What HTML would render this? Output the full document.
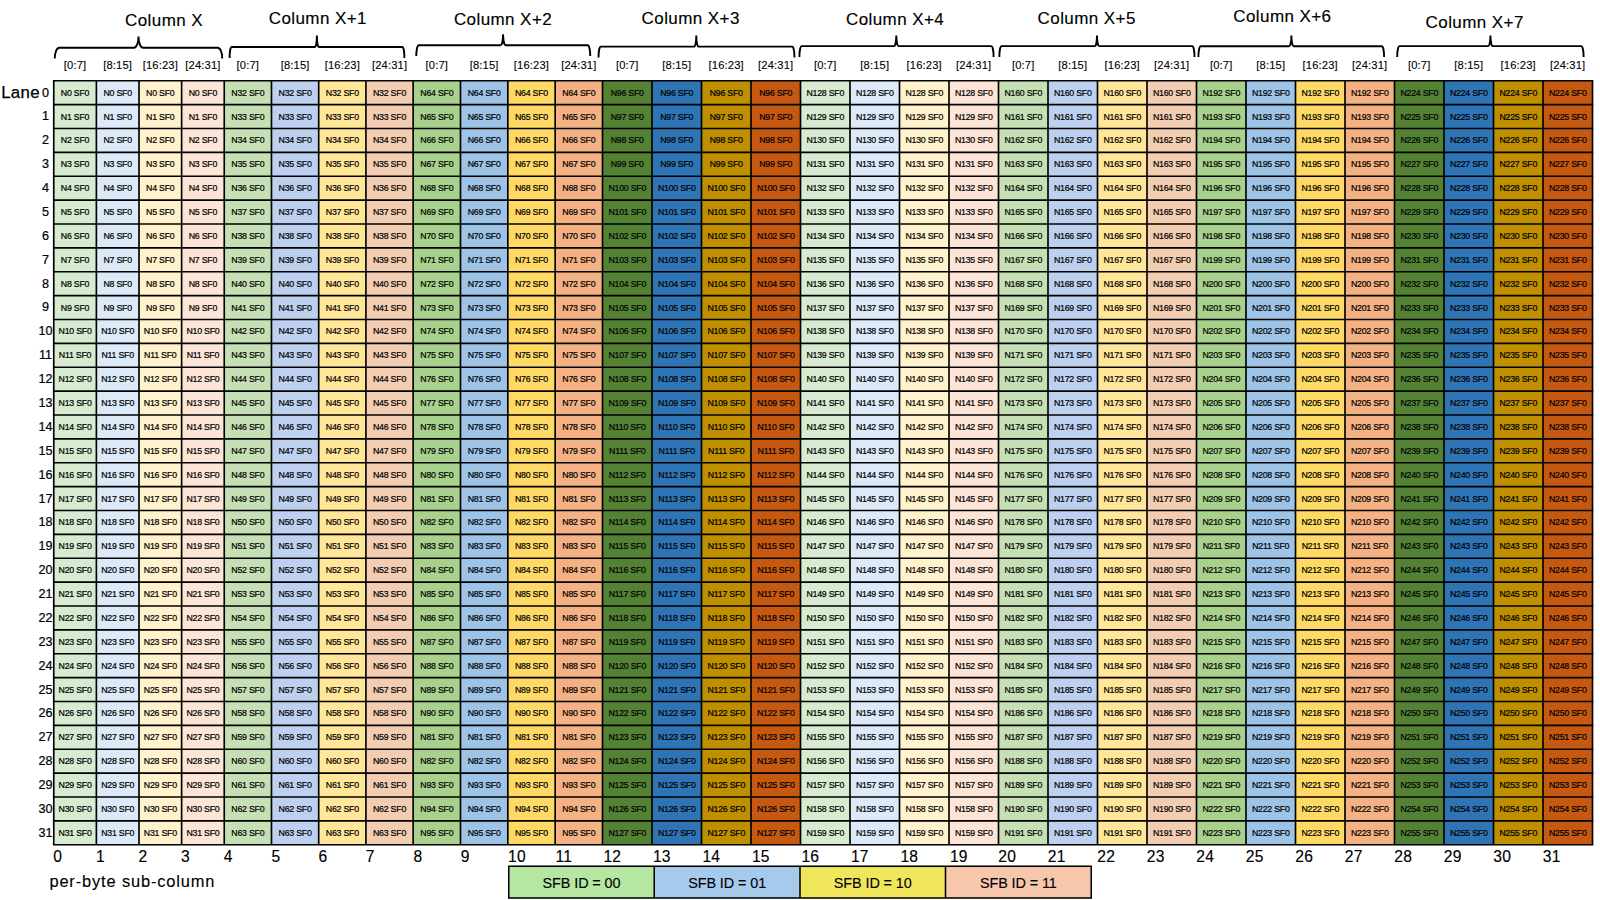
<!DOCTYPE html>
<html><head><meta charset="utf-8"><title>Lane layout</title>
<style>
html,body{margin:0;padding:0;background:#fff;}
body{width:1600px;height:900px;position:relative;overflow:hidden;font-family:"Liberation Sans",sans-serif;color:#000;}
.col{position:absolute;top:80.700px;height:764.050px;}
.col div{height:23.8766px;line-height:23.8766px;text-align:center;font-size:8.8px;letter-spacing:-0.24px;white-space:nowrap;color:#000;-webkit-text-stroke:0.2px #000;padding-top:1.0px;box-sizing:border-box;}
.sub{position:absolute;top:58.3px;height:15px;line-height:15px;font-size:11.2px;letter-spacing:0.15px;text-align:center;white-space:nowrap;color:#000;-webkit-text-stroke:0.1px #000;}
.hd{position:absolute;font-size:17px;line-height:20px;white-space:nowrap;transform:translateX(-50%);letter-spacing:0.42px;-webkit-text-stroke:0.15px #000;}
.ln{position:absolute;left:25.5px;width:40px;text-align:center;font-size:12.6px;-webkit-text-stroke:0.22px #000;height:23.8766px;line-height:23.8766px;}
.bn{position:absolute;top:848px;font-size:15.6px;line-height:18px;letter-spacing:0.3px;-webkit-text-stroke:0.15px #000;}
.lg{position:absolute;top:866.25px;height:31.75px;line-height:31.75px;text-align:center;font-size:14.4px;letter-spacing:-0.08px;color:#000;padding-top:1.7px;box-sizing:border-box;-webkit-text-stroke:0.12px #000;}
svg{position:absolute;left:0;top:0;}
</style></head><body>
<div class="col" style="left:53.750px;width:42.625px;background:#D7EBD0"><div>N0 SF0</div><div>N1 SF0</div><div>N2 SF0</div><div>N3 SF0</div><div>N4 SF0</div><div>N5 SF0</div><div>N6 SF0</div><div>N7 SF0</div><div>N8 SF0</div><div>N9 SF0</div><div>N10 SF0</div><div>N11 SF0</div><div>N12 SF0</div><div>N13 SF0</div><div>N14 SF0</div><div>N15 SF0</div><div>N16 SF0</div><div>N17 SF0</div><div>N18 SF0</div><div>N19 SF0</div><div>N20 SF0</div><div>N21 SF0</div><div>N22 SF0</div><div>N23 SF0</div><div>N24 SF0</div><div>N25 SF0</div><div>N26 SF0</div><div>N27 SF0</div><div>N28 SF0</div><div>N29 SF0</div><div>N30 SF0</div><div>N31 SF0</div></div>
<div class="col" style="left:96.375px;width:42.625px;background:#DCE9F8"><div>N0 SF0</div><div>N1 SF0</div><div>N2 SF0</div><div>N3 SF0</div><div>N4 SF0</div><div>N5 SF0</div><div>N6 SF0</div><div>N7 SF0</div><div>N8 SF0</div><div>N9 SF0</div><div>N10 SF0</div><div>N11 SF0</div><div>N12 SF0</div><div>N13 SF0</div><div>N14 SF0</div><div>N15 SF0</div><div>N16 SF0</div><div>N17 SF0</div><div>N18 SF0</div><div>N19 SF0</div><div>N20 SF0</div><div>N21 SF0</div><div>N22 SF0</div><div>N23 SF0</div><div>N24 SF0</div><div>N25 SF0</div><div>N26 SF0</div><div>N27 SF0</div><div>N28 SF0</div><div>N29 SF0</div><div>N30 SF0</div><div>N31 SF0</div></div>
<div class="col" style="left:139.000px;width:42.625px;background:#FFF2CC"><div>N0 SF0</div><div>N1 SF0</div><div>N2 SF0</div><div>N3 SF0</div><div>N4 SF0</div><div>N5 SF0</div><div>N6 SF0</div><div>N7 SF0</div><div>N8 SF0</div><div>N9 SF0</div><div>N10 SF0</div><div>N11 SF0</div><div>N12 SF0</div><div>N13 SF0</div><div>N14 SF0</div><div>N15 SF0</div><div>N16 SF0</div><div>N17 SF0</div><div>N18 SF0</div><div>N19 SF0</div><div>N20 SF0</div><div>N21 SF0</div><div>N22 SF0</div><div>N23 SF0</div><div>N24 SF0</div><div>N25 SF0</div><div>N26 SF0</div><div>N27 SF0</div><div>N28 SF0</div><div>N29 SF0</div><div>N30 SF0</div><div>N31 SF0</div></div>
<div class="col" style="left:181.625px;width:42.625px;background:#FCE4D6"><div>N0 SF0</div><div>N1 SF0</div><div>N2 SF0</div><div>N3 SF0</div><div>N4 SF0</div><div>N5 SF0</div><div>N6 SF0</div><div>N7 SF0</div><div>N8 SF0</div><div>N9 SF0</div><div>N10 SF0</div><div>N11 SF0</div><div>N12 SF0</div><div>N13 SF0</div><div>N14 SF0</div><div>N15 SF0</div><div>N16 SF0</div><div>N17 SF0</div><div>N18 SF0</div><div>N19 SF0</div><div>N20 SF0</div><div>N21 SF0</div><div>N22 SF0</div><div>N23 SF0</div><div>N24 SF0</div><div>N25 SF0</div><div>N26 SF0</div><div>N27 SF0</div><div>N28 SF0</div><div>N29 SF0</div><div>N30 SF0</div><div>N31 SF0</div></div>
<div class="col" style="left:224.250px;width:47.225px;background:#C5E0B4"><div>N32 SF0</div><div>N33 SF0</div><div>N34 SF0</div><div>N35 SF0</div><div>N36 SF0</div><div>N37 SF0</div><div>N38 SF0</div><div>N39 SF0</div><div>N40 SF0</div><div>N41 SF0</div><div>N42 SF0</div><div>N43 SF0</div><div>N44 SF0</div><div>N45 SF0</div><div>N46 SF0</div><div>N47 SF0</div><div>N48 SF0</div><div>N49 SF0</div><div>N50 SF0</div><div>N51 SF0</div><div>N52 SF0</div><div>N53 SF0</div><div>N54 SF0</div><div>N55 SF0</div><div>N56 SF0</div><div>N57 SF0</div><div>N58 SF0</div><div>N59 SF0</div><div>N60 SF0</div><div>N61 SF0</div><div>N62 SF0</div><div>N63 SF0</div></div>
<div class="col" style="left:271.475px;width:47.225px;background:#BED0EF"><div>N32 SF0</div><div>N33 SF0</div><div>N34 SF0</div><div>N35 SF0</div><div>N36 SF0</div><div>N37 SF0</div><div>N38 SF0</div><div>N39 SF0</div><div>N40 SF0</div><div>N41 SF0</div><div>N42 SF0</div><div>N43 SF0</div><div>N44 SF0</div><div>N45 SF0</div><div>N46 SF0</div><div>N47 SF0</div><div>N48 SF0</div><div>N49 SF0</div><div>N50 SF0</div><div>N51 SF0</div><div>N52 SF0</div><div>N53 SF0</div><div>N54 SF0</div><div>N55 SF0</div><div>N56 SF0</div><div>N57 SF0</div><div>N58 SF0</div><div>N59 SF0</div><div>N60 SF0</div><div>N61 SF0</div><div>N62 SF0</div><div>N63 SF0</div></div>
<div class="col" style="left:318.700px;width:47.225px;background:#FFE699"><div>N32 SF0</div><div>N33 SF0</div><div>N34 SF0</div><div>N35 SF0</div><div>N36 SF0</div><div>N37 SF0</div><div>N38 SF0</div><div>N39 SF0</div><div>N40 SF0</div><div>N41 SF0</div><div>N42 SF0</div><div>N43 SF0</div><div>N44 SF0</div><div>N45 SF0</div><div>N46 SF0</div><div>N47 SF0</div><div>N48 SF0</div><div>N49 SF0</div><div>N50 SF0</div><div>N51 SF0</div><div>N52 SF0</div><div>N53 SF0</div><div>N54 SF0</div><div>N55 SF0</div><div>N56 SF0</div><div>N57 SF0</div><div>N58 SF0</div><div>N59 SF0</div><div>N60 SF0</div><div>N61 SF0</div><div>N62 SF0</div><div>N63 SF0</div></div>
<div class="col" style="left:365.925px;width:47.225px;background:#F2CDB2"><div>N32 SF0</div><div>N33 SF0</div><div>N34 SF0</div><div>N35 SF0</div><div>N36 SF0</div><div>N37 SF0</div><div>N38 SF0</div><div>N39 SF0</div><div>N40 SF0</div><div>N41 SF0</div><div>N42 SF0</div><div>N43 SF0</div><div>N44 SF0</div><div>N45 SF0</div><div>N46 SF0</div><div>N47 SF0</div><div>N48 SF0</div><div>N49 SF0</div><div>N50 SF0</div><div>N51 SF0</div><div>N52 SF0</div><div>N53 SF0</div><div>N54 SF0</div><div>N55 SF0</div><div>N56 SF0</div><div>N57 SF0</div><div>N58 SF0</div><div>N59 SF0</div><div>N60 SF0</div><div>N61 SF0</div><div>N62 SF0</div><div>N63 SF0</div></div>
<div class="col" style="left:413.150px;width:47.337px;background:#A9D18E"><div>N64 SF0</div><div>N65 SF0</div><div>N66 SF0</div><div>N67 SF0</div><div>N68 SF0</div><div>N69 SF0</div><div>N70 SF0</div><div>N71 SF0</div><div>N72 SF0</div><div>N73 SF0</div><div>N74 SF0</div><div>N75 SF0</div><div>N76 SF0</div><div>N77 SF0</div><div>N78 SF0</div><div>N79 SF0</div><div>N80 SF0</div><div>N81 SF0</div><div>N82 SF0</div><div>N83 SF0</div><div>N84 SF0</div><div>N85 SF0</div><div>N86 SF0</div><div>N87 SF0</div><div>N88 SF0</div><div>N89 SF0</div><div>N90 SF0</div><div>N81 SF0</div><div>N82 SF0</div><div>N93 SF0</div><div>N94 SF0</div><div>N95 SF0</div></div>
<div class="col" style="left:460.487px;width:47.338px;background:#9DC3E6"><div>N64 SF0</div><div>N65 SF0</div><div>N66 SF0</div><div>N67 SF0</div><div>N68 SF0</div><div>N69 SF0</div><div>N70 SF0</div><div>N71 SF0</div><div>N72 SF0</div><div>N73 SF0</div><div>N74 SF0</div><div>N75 SF0</div><div>N76 SF0</div><div>N77 SF0</div><div>N78 SF0</div><div>N79 SF0</div><div>N80 SF0</div><div>N81 SF0</div><div>N82 SF0</div><div>N83 SF0</div><div>N84 SF0</div><div>N85 SF0</div><div>N86 SF0</div><div>N87 SF0</div><div>N88 SF0</div><div>N89 SF0</div><div>N90 SF0</div><div>N81 SF0</div><div>N82 SF0</div><div>N93 SF0</div><div>N94 SF0</div><div>N95 SF0</div></div>
<div class="col" style="left:507.825px;width:47.337px;background:#FFD966"><div>N64 SF0</div><div>N65 SF0</div><div>N66 SF0</div><div>N67 SF0</div><div>N68 SF0</div><div>N69 SF0</div><div>N70 SF0</div><div>N71 SF0</div><div>N72 SF0</div><div>N73 SF0</div><div>N74 SF0</div><div>N75 SF0</div><div>N76 SF0</div><div>N77 SF0</div><div>N78 SF0</div><div>N79 SF0</div><div>N80 SF0</div><div>N81 SF0</div><div>N82 SF0</div><div>N83 SF0</div><div>N84 SF0</div><div>N85 SF0</div><div>N86 SF0</div><div>N87 SF0</div><div>N88 SF0</div><div>N89 SF0</div><div>N90 SF0</div><div>N81 SF0</div><div>N82 SF0</div><div>N93 SF0</div><div>N94 SF0</div><div>N95 SF0</div></div>
<div class="col" style="left:555.162px;width:47.338px;background:#F4B183"><div>N64 SF0</div><div>N65 SF0</div><div>N66 SF0</div><div>N67 SF0</div><div>N68 SF0</div><div>N69 SF0</div><div>N70 SF0</div><div>N71 SF0</div><div>N72 SF0</div><div>N73 SF0</div><div>N74 SF0</div><div>N75 SF0</div><div>N76 SF0</div><div>N77 SF0</div><div>N78 SF0</div><div>N79 SF0</div><div>N80 SF0</div><div>N81 SF0</div><div>N82 SF0</div><div>N83 SF0</div><div>N84 SF0</div><div>N85 SF0</div><div>N86 SF0</div><div>N87 SF0</div><div>N88 SF0</div><div>N89 SF0</div><div>N90 SF0</div><div>N81 SF0</div><div>N82 SF0</div><div>N93 SF0</div><div>N94 SF0</div><div>N95 SF0</div></div>
<div class="col" style="left:602.500px;width:49.500px;background:#548235"><div>N96 SF0</div><div>N97 SF0</div><div>N98 SF0</div><div>N99 SF0</div><div>N100 SF0</div><div>N101 SF0</div><div>N102 SF0</div><div>N103 SF0</div><div>N104 SF0</div><div>N105 SF0</div><div>N106 SF0</div><div>N107 SF0</div><div>N108 SF0</div><div>N109 SF0</div><div>N110 SF0</div><div>N111 SF0</div><div>N112 SF0</div><div>N113 SF0</div><div>N114 SF0</div><div>N115 SF0</div><div>N116 SF0</div><div>N117 SF0</div><div>N118 SF0</div><div>N119 SF0</div><div>N120 SF0</div><div>N121 SF0</div><div>N122 SF0</div><div>N123 SF0</div><div>N124 SF0</div><div>N125 SF0</div><div>N126 SF0</div><div>N127 SF0</div></div>
<div class="col" style="left:652.000px;width:49.500px;background:#2F75B5"><div>N96 SF0</div><div>N97 SF0</div><div>N98 SF0</div><div>N99 SF0</div><div>N100 SF0</div><div>N101 SF0</div><div>N102 SF0</div><div>N103 SF0</div><div>N104 SF0</div><div>N105 SF0</div><div>N106 SF0</div><div>N107 SF0</div><div>N108 SF0</div><div>N109 SF0</div><div>N110 SF0</div><div>N111 SF0</div><div>N112 SF0</div><div>N113 SF0</div><div>N114 SF0</div><div>N115 SF0</div><div>N116 SF0</div><div>N117 SF0</div><div>N118 SF0</div><div>N119 SF0</div><div>N120 SF0</div><div>N121 SF0</div><div>N122 SF0</div><div>N123 SF0</div><div>N124 SF0</div><div>N125 SF0</div><div>N126 SF0</div><div>N127 SF0</div></div>
<div class="col" style="left:701.500px;width:49.500px;background:#BF8F00"><div>N96 SF0</div><div>N97 SF0</div><div>N98 SF0</div><div>N99 SF0</div><div>N100 SF0</div><div>N101 SF0</div><div>N102 SF0</div><div>N103 SF0</div><div>N104 SF0</div><div>N105 SF0</div><div>N106 SF0</div><div>N107 SF0</div><div>N108 SF0</div><div>N109 SF0</div><div>N110 SF0</div><div>N111 SF0</div><div>N112 SF0</div><div>N113 SF0</div><div>N114 SF0</div><div>N115 SF0</div><div>N116 SF0</div><div>N117 SF0</div><div>N118 SF0</div><div>N119 SF0</div><div>N120 SF0</div><div>N121 SF0</div><div>N122 SF0</div><div>N123 SF0</div><div>N124 SF0</div><div>N125 SF0</div><div>N126 SF0</div><div>N127 SF0</div></div>
<div class="col" style="left:751.000px;width:49.500px;background:#C65911"><div>N96 SF0</div><div>N97 SF0</div><div>N98 SF0</div><div>N99 SF0</div><div>N100 SF0</div><div>N101 SF0</div><div>N102 SF0</div><div>N103 SF0</div><div>N104 SF0</div><div>N105 SF0</div><div>N106 SF0</div><div>N107 SF0</div><div>N108 SF0</div><div>N109 SF0</div><div>N110 SF0</div><div>N111 SF0</div><div>N112 SF0</div><div>N113 SF0</div><div>N114 SF0</div><div>N115 SF0</div><div>N116 SF0</div><div>N117 SF0</div><div>N118 SF0</div><div>N119 SF0</div><div>N120 SF0</div><div>N121 SF0</div><div>N122 SF0</div><div>N123 SF0</div><div>N124 SF0</div><div>N125 SF0</div><div>N126 SF0</div><div>N127 SF0</div></div>
<div class="col" style="left:800.500px;width:49.500px;background:#D7EBD0"><div>N128 SF0</div><div>N129 SF0</div><div>N130 SF0</div><div>N131 SF0</div><div>N132 SF0</div><div>N133 SF0</div><div>N134 SF0</div><div>N135 SF0</div><div>N136 SF0</div><div>N137 SF0</div><div>N138 SF0</div><div>N139 SF0</div><div>N140 SF0</div><div>N141 SF0</div><div>N142 SF0</div><div>N143 SF0</div><div>N144 SF0</div><div>N145 SF0</div><div>N146 SF0</div><div>N147 SF0</div><div>N148 SF0</div><div>N149 SF0</div><div>N150 SF0</div><div>N151 SF0</div><div>N152 SF0</div><div>N153 SF0</div><div>N154 SF0</div><div>N155 SF0</div><div>N156 SF0</div><div>N157 SF0</div><div>N158 SF0</div><div>N159 SF0</div></div>
<div class="col" style="left:850.000px;width:49.500px;background:#DCE9F8"><div>N128 SF0</div><div>N129 SF0</div><div>N130 SF0</div><div>N131 SF0</div><div>N132 SF0</div><div>N133 SF0</div><div>N134 SF0</div><div>N135 SF0</div><div>N136 SF0</div><div>N137 SF0</div><div>N138 SF0</div><div>N139 SF0</div><div>N140 SF0</div><div>N141 SF0</div><div>N142 SF0</div><div>N143 SF0</div><div>N144 SF0</div><div>N145 SF0</div><div>N146 SF0</div><div>N147 SF0</div><div>N148 SF0</div><div>N149 SF0</div><div>N150 SF0</div><div>N151 SF0</div><div>N152 SF0</div><div>N153 SF0</div><div>N154 SF0</div><div>N155 SF0</div><div>N156 SF0</div><div>N157 SF0</div><div>N158 SF0</div><div>N159 SF0</div></div>
<div class="col" style="left:899.500px;width:49.500px;background:#FFF2CC"><div>N128 SF0</div><div>N129 SF0</div><div>N130 SF0</div><div>N131 SF0</div><div>N132 SF0</div><div>N133 SF0</div><div>N134 SF0</div><div>N135 SF0</div><div>N136 SF0</div><div>N137 SF0</div><div>N138 SF0</div><div>N139 SF0</div><div>N140 SF0</div><div>N141 SF0</div><div>N142 SF0</div><div>N143 SF0</div><div>N144 SF0</div><div>N145 SF0</div><div>N146 SF0</div><div>N147 SF0</div><div>N148 SF0</div><div>N149 SF0</div><div>N150 SF0</div><div>N151 SF0</div><div>N152 SF0</div><div>N153 SF0</div><div>N154 SF0</div><div>N155 SF0</div><div>N156 SF0</div><div>N157 SF0</div><div>N158 SF0</div><div>N159 SF0</div></div>
<div class="col" style="left:949.000px;width:49.500px;background:#FCE4D6"><div>N128 SF0</div><div>N129 SF0</div><div>N130 SF0</div><div>N131 SF0</div><div>N132 SF0</div><div>N133 SF0</div><div>N134 SF0</div><div>N135 SF0</div><div>N136 SF0</div><div>N137 SF0</div><div>N138 SF0</div><div>N139 SF0</div><div>N140 SF0</div><div>N141 SF0</div><div>N142 SF0</div><div>N143 SF0</div><div>N144 SF0</div><div>N145 SF0</div><div>N146 SF0</div><div>N147 SF0</div><div>N148 SF0</div><div>N149 SF0</div><div>N150 SF0</div><div>N151 SF0</div><div>N152 SF0</div><div>N153 SF0</div><div>N154 SF0</div><div>N155 SF0</div><div>N156 SF0</div><div>N157 SF0</div><div>N158 SF0</div><div>N159 SF0</div></div>
<div class="col" style="left:998.500px;width:49.500px;background:#C5E0B4"><div>N160 SF0</div><div>N161 SF0</div><div>N162 SF0</div><div>N163 SF0</div><div>N164 SF0</div><div>N165 SF0</div><div>N166 SF0</div><div>N167 SF0</div><div>N168 SF0</div><div>N169 SF0</div><div>N170 SF0</div><div>N171 SF0</div><div>N172 SF0</div><div>N173 SF0</div><div>N174 SF0</div><div>N175 SF0</div><div>N176 SF0</div><div>N177 SF0</div><div>N178 SF0</div><div>N179 SF0</div><div>N180 SF0</div><div>N181 SF0</div><div>N182 SF0</div><div>N183 SF0</div><div>N184 SF0</div><div>N185 SF0</div><div>N186 SF0</div><div>N187 SF0</div><div>N188 SF0</div><div>N189 SF0</div><div>N190 SF0</div><div>N191 SF0</div></div>
<div class="col" style="left:1048.000px;width:49.500px;background:#BED0EF"><div>N160 SF0</div><div>N161 SF0</div><div>N162 SF0</div><div>N163 SF0</div><div>N164 SF0</div><div>N165 SF0</div><div>N166 SF0</div><div>N167 SF0</div><div>N168 SF0</div><div>N169 SF0</div><div>N170 SF0</div><div>N171 SF0</div><div>N172 SF0</div><div>N173 SF0</div><div>N174 SF0</div><div>N175 SF0</div><div>N176 SF0</div><div>N177 SF0</div><div>N178 SF0</div><div>N179 SF0</div><div>N180 SF0</div><div>N181 SF0</div><div>N182 SF0</div><div>N183 SF0</div><div>N184 SF0</div><div>N185 SF0</div><div>N186 SF0</div><div>N187 SF0</div><div>N188 SF0</div><div>N189 SF0</div><div>N190 SF0</div><div>N191 SF0</div></div>
<div class="col" style="left:1097.500px;width:49.500px;background:#FFE699"><div>N160 SF0</div><div>N161 SF0</div><div>N162 SF0</div><div>N163 SF0</div><div>N164 SF0</div><div>N165 SF0</div><div>N166 SF0</div><div>N167 SF0</div><div>N168 SF0</div><div>N169 SF0</div><div>N170 SF0</div><div>N171 SF0</div><div>N172 SF0</div><div>N173 SF0</div><div>N174 SF0</div><div>N175 SF0</div><div>N176 SF0</div><div>N177 SF0</div><div>N178 SF0</div><div>N179 SF0</div><div>N180 SF0</div><div>N181 SF0</div><div>N182 SF0</div><div>N183 SF0</div><div>N184 SF0</div><div>N185 SF0</div><div>N186 SF0</div><div>N187 SF0</div><div>N188 SF0</div><div>N189 SF0</div><div>N190 SF0</div><div>N191 SF0</div></div>
<div class="col" style="left:1147.000px;width:49.500px;background:#F2CDB2"><div>N160 SF0</div><div>N161 SF0</div><div>N162 SF0</div><div>N163 SF0</div><div>N164 SF0</div><div>N165 SF0</div><div>N166 SF0</div><div>N167 SF0</div><div>N168 SF0</div><div>N169 SF0</div><div>N170 SF0</div><div>N171 SF0</div><div>N172 SF0</div><div>N173 SF0</div><div>N174 SF0</div><div>N175 SF0</div><div>N176 SF0</div><div>N177 SF0</div><div>N178 SF0</div><div>N179 SF0</div><div>N180 SF0</div><div>N181 SF0</div><div>N182 SF0</div><div>N183 SF0</div><div>N184 SF0</div><div>N185 SF0</div><div>N186 SF0</div><div>N187 SF0</div><div>N188 SF0</div><div>N189 SF0</div><div>N190 SF0</div><div>N191 SF0</div></div>
<div class="col" style="left:1196.500px;width:49.500px;background:#A9D18E"><div>N192 SF0</div><div>N193 SF0</div><div>N194 SF0</div><div>N195 SF0</div><div>N196 SF0</div><div>N197 SF0</div><div>N198 SF0</div><div>N199 SF0</div><div>N200 SF0</div><div>N201 SF0</div><div>N202 SF0</div><div>N203 SF0</div><div>N204 SF0</div><div>N205 SF0</div><div>N206 SF0</div><div>N207 SF0</div><div>N208 SF0</div><div>N209 SF0</div><div>N210 SF0</div><div>N211 SF0</div><div>N212 SF0</div><div>N213 SF0</div><div>N214 SF0</div><div>N215 SF0</div><div>N216 SF0</div><div>N217 SF0</div><div>N218 SF0</div><div>N219 SF0</div><div>N220 SF0</div><div>N221 SF0</div><div>N222 SF0</div><div>N223 SF0</div></div>
<div class="col" style="left:1246.000px;width:49.500px;background:#9DC3E6"><div>N192 SF0</div><div>N193 SF0</div><div>N194 SF0</div><div>N195 SF0</div><div>N196 SF0</div><div>N197 SF0</div><div>N198 SF0</div><div>N199 SF0</div><div>N200 SF0</div><div>N201 SF0</div><div>N202 SF0</div><div>N203 SF0</div><div>N204 SF0</div><div>N205 SF0</div><div>N206 SF0</div><div>N207 SF0</div><div>N208 SF0</div><div>N209 SF0</div><div>N210 SF0</div><div>N211 SF0</div><div>N212 SF0</div><div>N213 SF0</div><div>N214 SF0</div><div>N215 SF0</div><div>N216 SF0</div><div>N217 SF0</div><div>N218 SF0</div><div>N219 SF0</div><div>N220 SF0</div><div>N221 SF0</div><div>N222 SF0</div><div>N223 SF0</div></div>
<div class="col" style="left:1295.500px;width:49.500px;background:#FFD966"><div>N192 SF0</div><div>N193 SF0</div><div>N194 SF0</div><div>N195 SF0</div><div>N196 SF0</div><div>N197 SF0</div><div>N198 SF0</div><div>N199 SF0</div><div>N200 SF0</div><div>N201 SF0</div><div>N202 SF0</div><div>N203 SF0</div><div>N204 SF0</div><div>N205 SF0</div><div>N206 SF0</div><div>N207 SF0</div><div>N208 SF0</div><div>N209 SF0</div><div>N210 SF0</div><div>N211 SF0</div><div>N212 SF0</div><div>N213 SF0</div><div>N214 SF0</div><div>N215 SF0</div><div>N216 SF0</div><div>N217 SF0</div><div>N218 SF0</div><div>N219 SF0</div><div>N220 SF0</div><div>N221 SF0</div><div>N222 SF0</div><div>N223 SF0</div></div>
<div class="col" style="left:1345.000px;width:49.500px;background:#F4B183"><div>N192 SF0</div><div>N193 SF0</div><div>N194 SF0</div><div>N195 SF0</div><div>N196 SF0</div><div>N197 SF0</div><div>N198 SF0</div><div>N199 SF0</div><div>N200 SF0</div><div>N201 SF0</div><div>N202 SF0</div><div>N203 SF0</div><div>N204 SF0</div><div>N205 SF0</div><div>N206 SF0</div><div>N207 SF0</div><div>N208 SF0</div><div>N209 SF0</div><div>N210 SF0</div><div>N211 SF0</div><div>N212 SF0</div><div>N213 SF0</div><div>N214 SF0</div><div>N215 SF0</div><div>N216 SF0</div><div>N217 SF0</div><div>N218 SF0</div><div>N219 SF0</div><div>N220 SF0</div><div>N221 SF0</div><div>N222 SF0</div><div>N223 SF0</div></div>
<div class="col" style="left:1394.500px;width:49.500px;background:#548235"><div>N224 SF0</div><div>N225 SF0</div><div>N226 SF0</div><div>N227 SF0</div><div>N228 SF0</div><div>N229 SF0</div><div>N230 SF0</div><div>N231 SF0</div><div>N232 SF0</div><div>N233 SF0</div><div>N234 SF0</div><div>N235 SF0</div><div>N236 SF0</div><div>N237 SF0</div><div>N238 SF0</div><div>N239 SF0</div><div>N240 SF0</div><div>N241 SF0</div><div>N242 SF0</div><div>N243 SF0</div><div>N244 SF0</div><div>N245 SF0</div><div>N246 SF0</div><div>N247 SF0</div><div>N248 SF0</div><div>N249 SF0</div><div>N250 SF0</div><div>N251 SF0</div><div>N252 SF0</div><div>N253 SF0</div><div>N254 SF0</div><div>N255 SF0</div></div>
<div class="col" style="left:1444.000px;width:49.500px;background:#2F75B5"><div>N224 SF0</div><div>N225 SF0</div><div>N226 SF0</div><div>N227 SF0</div><div>N228 SF0</div><div>N229 SF0</div><div>N230 SF0</div><div>N231 SF0</div><div>N232 SF0</div><div>N233 SF0</div><div>N234 SF0</div><div>N235 SF0</div><div>N236 SF0</div><div>N237 SF0</div><div>N238 SF0</div><div>N239 SF0</div><div>N240 SF0</div><div>N241 SF0</div><div>N242 SF0</div><div>N243 SF0</div><div>N244 SF0</div><div>N245 SF0</div><div>N246 SF0</div><div>N247 SF0</div><div>N248 SF0</div><div>N249 SF0</div><div>N250 SF0</div><div>N251 SF0</div><div>N252 SF0</div><div>N253 SF0</div><div>N254 SF0</div><div>N255 SF0</div></div>
<div class="col" style="left:1493.500px;width:49.500px;background:#BF8F00"><div>N224 SF0</div><div>N225 SF0</div><div>N226 SF0</div><div>N227 SF0</div><div>N228 SF0</div><div>N229 SF0</div><div>N230 SF0</div><div>N231 SF0</div><div>N232 SF0</div><div>N233 SF0</div><div>N234 SF0</div><div>N235 SF0</div><div>N236 SF0</div><div>N237 SF0</div><div>N238 SF0</div><div>N239 SF0</div><div>N240 SF0</div><div>N241 SF0</div><div>N242 SF0</div><div>N243 SF0</div><div>N244 SF0</div><div>N245 SF0</div><div>N246 SF0</div><div>N247 SF0</div><div>N248 SF0</div><div>N249 SF0</div><div>N250 SF0</div><div>N251 SF0</div><div>N252 SF0</div><div>N253 SF0</div><div>N254 SF0</div><div>N255 SF0</div></div>
<div class="col" style="left:1543.000px;width:49.500px;background:#C65911"><div>N224 SF0</div><div>N225 SF0</div><div>N226 SF0</div><div>N227 SF0</div><div>N228 SF0</div><div>N229 SF0</div><div>N230 SF0</div><div>N231 SF0</div><div>N232 SF0</div><div>N233 SF0</div><div>N234 SF0</div><div>N235 SF0</div><div>N236 SF0</div><div>N237 SF0</div><div>N238 SF0</div><div>N239 SF0</div><div>N240 SF0</div><div>N241 SF0</div><div>N242 SF0</div><div>N243 SF0</div><div>N244 SF0</div><div>N245 SF0</div><div>N246 SF0</div><div>N247 SF0</div><div>N248 SF0</div><div>N249 SF0</div><div>N250 SF0</div><div>N251 SF0</div><div>N252 SF0</div><div>N253 SF0</div><div>N254 SF0</div><div>N255 SF0</div></div>
<div class="sub" style="left:53.750px;width:42.625px">[0:7]</div><div class="sub" style="left:96.375px;width:42.625px">[8:15]</div><div class="sub" style="left:139.000px;width:42.625px">[16:23]</div><div class="sub" style="left:181.625px;width:42.625px">[24:31]</div><div class="sub" style="left:224.250px;width:47.225px">[0:7]</div><div class="sub" style="left:271.475px;width:47.225px">[8:15]</div><div class="sub" style="left:318.700px;width:47.225px">[16:23]</div><div class="sub" style="left:365.925px;width:47.225px">[24:31]</div><div class="sub" style="left:413.150px;width:47.337px">[0:7]</div><div class="sub" style="left:460.487px;width:47.338px">[8:15]</div><div class="sub" style="left:507.825px;width:47.337px">[16:23]</div><div class="sub" style="left:555.162px;width:47.338px">[24:31]</div><div class="sub" style="left:602.500px;width:49.500px">[0:7]</div><div class="sub" style="left:652.000px;width:49.500px">[8:15]</div><div class="sub" style="left:701.500px;width:49.500px">[16:23]</div><div class="sub" style="left:751.000px;width:49.500px">[24:31]</div><div class="sub" style="left:800.500px;width:49.500px">[0:7]</div><div class="sub" style="left:850.000px;width:49.500px">[8:15]</div><div class="sub" style="left:899.500px;width:49.500px">[16:23]</div><div class="sub" style="left:949.000px;width:49.500px">[24:31]</div><div class="sub" style="left:998.500px;width:49.500px">[0:7]</div><div class="sub" style="left:1048.000px;width:49.500px">[8:15]</div><div class="sub" style="left:1097.500px;width:49.500px">[16:23]</div><div class="sub" style="left:1147.000px;width:49.500px">[24:31]</div><div class="sub" style="left:1196.500px;width:49.500px">[0:7]</div><div class="sub" style="left:1246.000px;width:49.500px">[8:15]</div><div class="sub" style="left:1295.500px;width:49.500px">[16:23]</div><div class="sub" style="left:1345.000px;width:49.500px">[24:31]</div><div class="sub" style="left:1394.500px;width:49.500px">[0:7]</div><div class="sub" style="left:1444.000px;width:49.500px">[8:15]</div><div class="sub" style="left:1493.500px;width:49.500px">[16:23]</div><div class="sub" style="left:1543.000px;width:49.500px">[24:31]</div>
<div class="hd" style="left:164.00px;top:11.35px">Column X</div><div class="hd" style="left:317.85px;top:8.60px">Column X+1</div><div class="hd" style="left:503.00px;top:10.10px">Column X+2</div><div class="hd" style="left:690.70px;top:9.10px">Column X+3</div><div class="hd" style="left:895.10px;top:10.10px">Column X+4</div><div class="hd" style="left:1086.70px;top:9.10px">Column X+5</div><div class="hd" style="left:1282.40px;top:7.10px">Column X+6</div><div class="hd" style="left:1474.70px;top:13.20px">Column X+7</div>
<div style="position:absolute;left:1.2px;top:80.90px;font-size:16.8px;letter-spacing:0.35px;-webkit-text-stroke:0.25px #000;line-height:23.8766px;height:23.8766px">Lane</div><div class="ln" style="top:81.600px">0</div><div class="ln" style="top:105.477px">1</div><div class="ln" style="top:129.353px">2</div><div class="ln" style="top:153.230px">3</div><div class="ln" style="top:177.106px">4</div><div class="ln" style="top:200.983px">5</div><div class="ln" style="top:224.859px">6</div><div class="ln" style="top:248.736px">7</div><div class="ln" style="top:272.612px">8</div><div class="ln" style="top:296.489px">9</div><div class="ln" style="top:320.366px">10</div><div class="ln" style="top:344.242px">11</div><div class="ln" style="top:368.119px">12</div><div class="ln" style="top:391.995px">13</div><div class="ln" style="top:415.872px">14</div><div class="ln" style="top:439.748px">15</div><div class="ln" style="top:463.625px">16</div><div class="ln" style="top:487.502px">17</div><div class="ln" style="top:511.378px">18</div><div class="ln" style="top:535.255px">19</div><div class="ln" style="top:559.131px">20</div><div class="ln" style="top:583.008px">21</div><div class="ln" style="top:606.884px">22</div><div class="ln" style="top:630.761px">23</div><div class="ln" style="top:654.637px">24</div><div class="ln" style="top:678.514px">25</div><div class="ln" style="top:702.391px">26</div><div class="ln" style="top:726.267px">27</div><div class="ln" style="top:750.144px">28</div><div class="ln" style="top:774.020px">29</div><div class="ln" style="top:797.897px">30</div><div class="ln" style="top:821.773px">31</div>
<div class="bn" style="left:53.25px">0</div><div class="bn" style="left:95.88px">1</div><div class="bn" style="left:138.50px">2</div><div class="bn" style="left:181.12px">3</div><div class="bn" style="left:223.75px">4</div><div class="bn" style="left:271.38px">5</div><div class="bn" style="left:318.60px">6</div><div class="bn" style="left:365.82px">7</div><div class="bn" style="left:413.45px">8</div><div class="bn" style="left:460.79px">9</div><div class="bn" style="left:508.12px">10</div><div class="bn" style="left:555.46px">11</div><div class="bn" style="left:603.40px">12</div><div class="bn" style="left:652.90px">13</div><div class="bn" style="left:702.40px">14</div><div class="bn" style="left:751.90px">15</div><div class="bn" style="left:801.40px">16</div><div class="bn" style="left:850.90px">17</div><div class="bn" style="left:900.40px">18</div><div class="bn" style="left:949.90px">19</div><div class="bn" style="left:998.20px">20</div><div class="bn" style="left:1047.70px">21</div><div class="bn" style="left:1097.20px">22</div><div class="bn" style="left:1146.70px">23</div><div class="bn" style="left:1196.20px">24</div><div class="bn" style="left:1245.70px">25</div><div class="bn" style="left:1295.20px">26</div><div class="bn" style="left:1344.70px">27</div><div class="bn" style="left:1394.20px">28</div><div class="bn" style="left:1443.70px">29</div><div class="bn" style="left:1493.20px">30</div><div class="bn" style="left:1542.70px">31</div>
<div style="position:absolute;left:49.4px;top:870.6px;font-size:16.4px;line-height:20px;white-space:nowrap;letter-spacing:0.87px;-webkit-text-stroke:0.12px #000">per-byte sub-column</div>
<div class="lg" style="left:508.75px;width:145.50px;background:#B5E6A2">SFB ID = 00</div><div class="lg" style="left:654.25px;width:145.75px;background:#A6CAEC">SFB ID = 01</div><div class="lg" style="left:800.00px;width:145.50px;background:#F0E65C">SFB ID = 10</div><div class="lg" style="left:945.50px;width:145.75px;background:#F7C7AC">SFB ID = 11</div>
<svg width="1600" height="900" viewBox="0 0 1600 900" fill="none" stroke="#000">
<g stroke-width="1.65" stroke-linecap="butt">
<line x1="52.95" y1="80.70" x2="1593.30" y2="80.70"/>
<line x1="52.95" y1="104.58" x2="1593.30" y2="104.58"/>
<line x1="52.95" y1="128.45" x2="1593.30" y2="128.45"/>
<line x1="52.95" y1="152.33" x2="1593.30" y2="152.33"/>
<line x1="52.95" y1="176.21" x2="1593.30" y2="176.21"/>
<line x1="52.95" y1="200.08" x2="1593.30" y2="200.08"/>
<line x1="52.95" y1="223.96" x2="1593.30" y2="223.96"/>
<line x1="52.95" y1="247.84" x2="1593.30" y2="247.84"/>
<line x1="52.95" y1="271.71" x2="1593.30" y2="271.71"/>
<line x1="52.95" y1="295.59" x2="1593.30" y2="295.59"/>
<line x1="52.95" y1="319.47" x2="1593.30" y2="319.47"/>
<line x1="52.95" y1="343.34" x2="1593.30" y2="343.34"/>
<line x1="52.95" y1="367.22" x2="1593.30" y2="367.22"/>
<line x1="52.95" y1="391.10" x2="1593.30" y2="391.10"/>
<line x1="52.95" y1="414.97" x2="1593.30" y2="414.97"/>
<line x1="52.95" y1="438.85" x2="1593.30" y2="438.85"/>
<line x1="52.95" y1="462.72" x2="1593.30" y2="462.72"/>
<line x1="52.95" y1="486.60" x2="1593.30" y2="486.60"/>
<line x1="52.95" y1="510.48" x2="1593.30" y2="510.48"/>
<line x1="52.95" y1="534.35" x2="1593.30" y2="534.35"/>
<line x1="52.95" y1="558.23" x2="1593.30" y2="558.23"/>
<line x1="52.95" y1="582.11" x2="1593.30" y2="582.11"/>
<line x1="52.95" y1="605.98" x2="1593.30" y2="605.98"/>
<line x1="52.95" y1="629.86" x2="1593.30" y2="629.86"/>
<line x1="52.95" y1="653.74" x2="1593.30" y2="653.74"/>
<line x1="52.95" y1="677.61" x2="1593.30" y2="677.61"/>
<line x1="52.95" y1="701.49" x2="1593.30" y2="701.49"/>
<line x1="52.95" y1="725.37" x2="1593.30" y2="725.37"/>
<line x1="52.95" y1="749.24" x2="1593.30" y2="749.24"/>
<line x1="52.95" y1="773.12" x2="1593.30" y2="773.12"/>
<line x1="52.95" y1="797.00" x2="1593.30" y2="797.00"/>
<line x1="52.95" y1="820.87" x2="1593.30" y2="820.87"/>
<line x1="52.95" y1="844.75" x2="1593.30" y2="844.75"/>
<line x1="53.75" y1="80.70" x2="53.75" y2="844.75"/>
<line x1="96.38" y1="80.70" x2="96.38" y2="844.75"/>
<line x1="139.00" y1="80.70" x2="139.00" y2="844.75"/>
<line x1="181.62" y1="80.70" x2="181.62" y2="844.75"/>
<line x1="224.25" y1="80.70" x2="224.25" y2="844.75"/>
<line x1="271.48" y1="80.70" x2="271.48" y2="844.75"/>
<line x1="318.70" y1="80.70" x2="318.70" y2="844.75"/>
<line x1="365.93" y1="80.70" x2="365.93" y2="844.75"/>
<line x1="413.15" y1="80.70" x2="413.15" y2="844.75"/>
<line x1="460.49" y1="80.70" x2="460.49" y2="844.75"/>
<line x1="507.82" y1="80.70" x2="507.82" y2="844.75"/>
<line x1="555.16" y1="80.70" x2="555.16" y2="844.75"/>
<line x1="602.50" y1="80.70" x2="602.50" y2="844.75"/>
<line x1="652.00" y1="80.70" x2="652.00" y2="844.75"/>
<line x1="701.50" y1="80.70" x2="701.50" y2="844.75"/>
<line x1="751.00" y1="80.70" x2="751.00" y2="844.75"/>
<line x1="800.50" y1="80.70" x2="800.50" y2="844.75"/>
<line x1="850.00" y1="80.70" x2="850.00" y2="844.75"/>
<line x1="899.50" y1="80.70" x2="899.50" y2="844.75"/>
<line x1="949.00" y1="80.70" x2="949.00" y2="844.75"/>
<line x1="998.50" y1="80.70" x2="998.50" y2="844.75"/>
<line x1="1048.00" y1="80.70" x2="1048.00" y2="844.75"/>
<line x1="1097.50" y1="80.70" x2="1097.50" y2="844.75"/>
<line x1="1147.00" y1="80.70" x2="1147.00" y2="844.75"/>
<line x1="1196.50" y1="80.70" x2="1196.50" y2="844.75"/>
<line x1="1246.00" y1="80.70" x2="1246.00" y2="844.75"/>
<line x1="1295.50" y1="80.70" x2="1295.50" y2="844.75"/>
<line x1="1345.00" y1="80.70" x2="1345.00" y2="844.75"/>
<line x1="1394.50" y1="80.70" x2="1394.50" y2="844.75"/>
<line x1="1444.00" y1="80.70" x2="1444.00" y2="844.75"/>
<line x1="1493.50" y1="80.70" x2="1493.50" y2="844.75"/>
<line x1="1543.00" y1="80.70" x2="1543.00" y2="844.75"/>
<line x1="1592.50" y1="80.70" x2="1592.50" y2="844.75"/>
</g>
<g stroke-width="1.55">
<rect x="508.75" y="866.25" width="582.50" height="31.75"/>
<line x1="654.25" y1="866.25" x2="654.25" y2="898"/>
<line x1="800.00" y1="866.25" x2="800.00" y2="898"/>
<line x1="945.50" y1="866.25" x2="945.50" y2="898"/>
</g>
<g stroke-width="1.9" stroke-linecap="butt" stroke-linejoin="miter">
<path d="M54.75 58.60 A4.50 10.85 0 0 1 59.25 47.75 L134.00 47.75 A4.50 11.25 0 0 0 138.50 36.50 A4.50 11.25 0 0 0 143.00 47.75 L217.75 47.75 A4.50 10.85 0 0 1 222.25 58.60"/>
<path d="M229.60 58.00 A1.90 11.00 0 0 1 231.50 47.00 L315.00 47.00 A1.90 11.50 0 0 0 316.90 35.50 A1.90 11.50 0 0 0 318.80 47.00 L402.50 47.00 A1.90 11.00 0 0 1 404.40 58.00"/>
<path d="M416.25 56.10 A2.50 10.85 0 0 1 418.75 45.25 L500.60 45.25 A2.50 11.00 0 0 0 503.10 34.25 A2.50 11.00 0 0 0 505.60 45.25 L587.75 45.25 A2.50 10.85 0 0 1 590.25 56.10"/>
<path d="M598.50 57.60 A2.20 11.00 0 0 1 600.70 46.60 L694.10 46.60 A2.20 11.00 0 0 0 696.30 35.60 A2.20 11.00 0 0 0 698.50 46.60 L792.30 46.60 A2.20 11.00 0 0 1 794.50 57.60"/>
<path d="M799.40 56.90 A2.30 10.75 0 0 1 801.70 46.15 L894.00 46.15 A2.30 10.55 0 0 0 896.30 35.60 A2.30 10.55 0 0 0 898.60 46.15 L991.30 46.15 A2.30 10.75 0 0 1 993.60 56.90"/>
<path d="M999.35 56.90 A2.10 10.75 0 0 1 1001.45 46.15 L1094.90 46.15 A2.10 10.55 0 0 0 1097.00 35.60 A2.10 10.55 0 0 0 1099.10 46.15 L1192.40 46.15 A2.10 10.75 0 0 1 1194.50 56.90"/>
<path d="M1198.40 57.10 A2.30 10.90 0 0 1 1200.70 46.20 L1289.10 46.20 A2.30 10.70 0 0 0 1291.40 35.50 A2.30 10.70 0 0 0 1293.70 46.20 L1381.80 46.20 A2.30 10.90 0 0 1 1384.10 57.10"/>
<path d="M1397.20 56.90 A2.30 10.75 0 0 1 1399.50 46.15 L1488.15 46.15 A2.30 10.55 0 0 0 1490.45 35.60 A2.30 10.55 0 0 0 1492.75 46.15 L1581.30 46.15 A2.30 10.75 0 0 1 1583.60 56.90"/>
</g>
</svg>
</body></html>
